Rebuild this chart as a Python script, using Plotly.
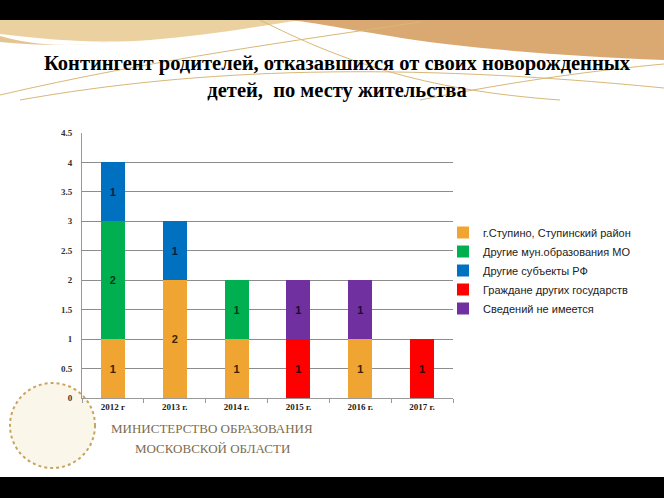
import plotly.graph_objects as go

# ---------------- data ----------------
years = ["2012 г", "2013 г.", "2014 г.", "2015 г.", "2016 г.", "2017 г."]
stupino = [1, 2, 1, 0, 1, 0]
other_mo = [2, 0, 1, 0, 0, 0]
other_rf = [1, 1, 0, 0, 0, 0]
foreign = [0, 0, 0, 1, 0, 1]
unknown = [0, 0, 0, 1, 1, 0]

series_names = [
    "г.Ступино, Ступинский район",
    "Другие мун.образования МО",
    "Другие субъекты РФ",
    "Граждане других государств",
    "Сведений не имеется",
]
series_values = [stupino, other_mo, other_rf, foreign, unknown]
colors = ["#F0A431", "#00B050", "#0070C0", "#FF0000", "#7030A0"]
label_colors = ["#3a2300", "#003a18", "#0a1e40", "#3a0000", "#1e0a30"]

title_text = "Контингент родителей, отказавшихся от своих новорожденных<br>детей,  по месту жительства"
yticks = [0, 0.5, 1, 1.5, 2, 2.5, 3, 3.5, 4, 4.5]
ytick_text = ["0", "0.5", "1", "1.5", "2", "2.5", "3", "3.5", "4", "4.5"]

# ---------------- layout geometry ----------------
W, H = 664, 498
L, R, T, B = 82, 453, 133, 398


def px(x):
    return (x - L) / (R - L)


def py(y):
    return (B - y) / (B - T)


fig = go.Figure()
for name, vals, col, lcol in zip(series_names, series_values, colors, label_colors):
    fig.add_trace(go.Bar(
        name=name,
        x=years,
        y=vals,
        marker=dict(color=col, line=dict(width=0)),
        text=[str(v) if v else "" for v in vals],
        textposition="inside",
        insidetextanchor="middle",
        textangle=0,
        textfont=dict(family="Liberation Sans", size=11, color=lcol, weight="bold"),
        hoverinfo="skip",
    ))

shapes = []
# black bands
shapes.append(dict(type="rect", xref="paper", yref="paper", x0=px(0), x1=px(W), y0=py(0), y1=py(20),
                   fillcolor="black", line=dict(width=0), layer="above"))
shapes.append(dict(type="rect", xref="paper", yref="paper", x0=px(0), x1=px(W), y0=py(477), y1=py(H),
                   fillcolor="black", line=dict(width=0), layer="above"))


def path(points):
    s = ""
    for cmd, pts in points:
        s += cmd + " " + " ".join(f"{px(a):.4f},{py(b):.4f}" for a, b in pts) + " "
    return s + "Z"


# gold decorations at top
shapes.append(dict(type="path", xref="paper", yref="paper", layer="below",
                   path=path([("M", [(0, 20)]), ("L", [(300, 20)]),
                              ("C", [(250, 28), (200, 36), (150, 40)]),
                              ("C", [(100, 44), (50, 40), (0, 34)])]),
                   fillcolor="#e8c98e", line=dict(width=0), opacity=0.85))
shapes.append(dict(type="path", xref="paper", yref="paper", layer="below",
                   path=path([("M", [(0, 36)]),
                              ("C", [(30, 44), (60, 48), (110, 42)]),
                              ("C", [(80, 46), (40, 46), (0, 42)])]),
                   fillcolor="#d9ab62", line=dict(width=0), opacity=0.7))
shapes.append(dict(type="path", xref="paper", yref="paper", layer="below",
                   path=path([("M", [(290, 20)]), ("L", [(664, 20)]), ("L", [(664, 60)]),
                              ("C", [(560, 56), (460, 48), (390, 36)]),
                              ("C", [(340, 28), (310, 22), (290, 20)])]),
                   fillcolor="#d5a062", line=dict(width=0), opacity=0.9))

line_paths = [
    [(0, 95), (150, 60), (300, 40), (420, 22)],
    [(20, 100), (200, 68), (400, 62), (664, 88)],
    [(260, 20), (340, 60), (420, 90), (560, 100)],
    [(420, 100), (520, 80), (600, 70), (664, 64)],
]
for pts in line_paths:
    d = f"M {px(pts[0][0]):.4f},{py(pts[0][1]):.4f} C " + " ".join(
        f"{px(a):.4f},{py(b):.4f}" for a, b in pts[1:])
    shapes.append(dict(type="path", xref="paper", yref="paper", layer="below", path=d,
                       line=dict(color="#d8b878", width=1)))

# emblem circle (bottom-left)
shapes.append(dict(type="circle", xref="paper", yref="paper", layer="below",
                   x0=px(10), x1=px(95), y0=py(383), y1=py(468),
                   fillcolor="#fbf6ea", line=dict(color="#c9a45c", width=2, dash="dot")))

annotations = [
    dict(text="МИНИСТЕРСТВО ОБРАЗОВАНИЯ", xref="paper", yref="paper", x=px(212), y=py(428),
         showarrow=False, xanchor="center", yanchor="middle",
         font=dict(family="Liberation Serif", size=13, color="#7d6c4e")),
    dict(text="МОСКОВСКОЙ ОБЛАСТИ", xref="paper", yref="paper", x=px(212), y=py(448),
         showarrow=False, xanchor="center", yanchor="middle",
         font=dict(family="Liberation Serif", size=13, color="#7d6c4e")),
]

fig.update_layout(
    width=W, height=H,
    margin=dict(l=L, r=W - R, t=T, b=H - B, pad=0),
    paper_bgcolor="white", plot_bgcolor="white",
    barmode="stack", bargap=0.61,
    title=dict(text=title_text, x=337 / W, xref="container", xanchor="center",
               y=1 - 70 / H, yref="container", yanchor="middle",
               font=dict(family="Liberation Serif", size=20.5, color="black", weight="bold")),
    legend=dict(x=px(443), y=py(218), xanchor="left", yanchor="top", traceorder="normal",
                font=dict(family="Liberation Sans", size=11, color="#222222"),
                itemwidth=30, tracegroupgap=0, bgcolor="rgba(0,0,0,0)"),
    shapes=shapes,
    annotations=annotations,
    showlegend=True,
)
fig.update_xaxes(showline=True, linecolor="#999999", linewidth=1,
                 ticks="outside", tickson="boundaries", ticklen=4, tickcolor="#999999",
                 tickfont=dict(family="Liberation Serif", size=9, color="#222222", weight="bold"),
                 showgrid=False)
fig.update_yaxes(range=[0, 4.5], tickvals=yticks, ticktext=ytick_text,
                 showline=True, linecolor="#999999", linewidth=1,
                 showgrid=True, gridcolor="#8c8c8c", gridwidth=1,
                 ticks="", ticklabelstandoff=7,
                 tickfont=dict(family="Liberation Serif", size=9, color="#333333", weight="bold"),
                 zeroline=False)

fig.write_html("out.html")
